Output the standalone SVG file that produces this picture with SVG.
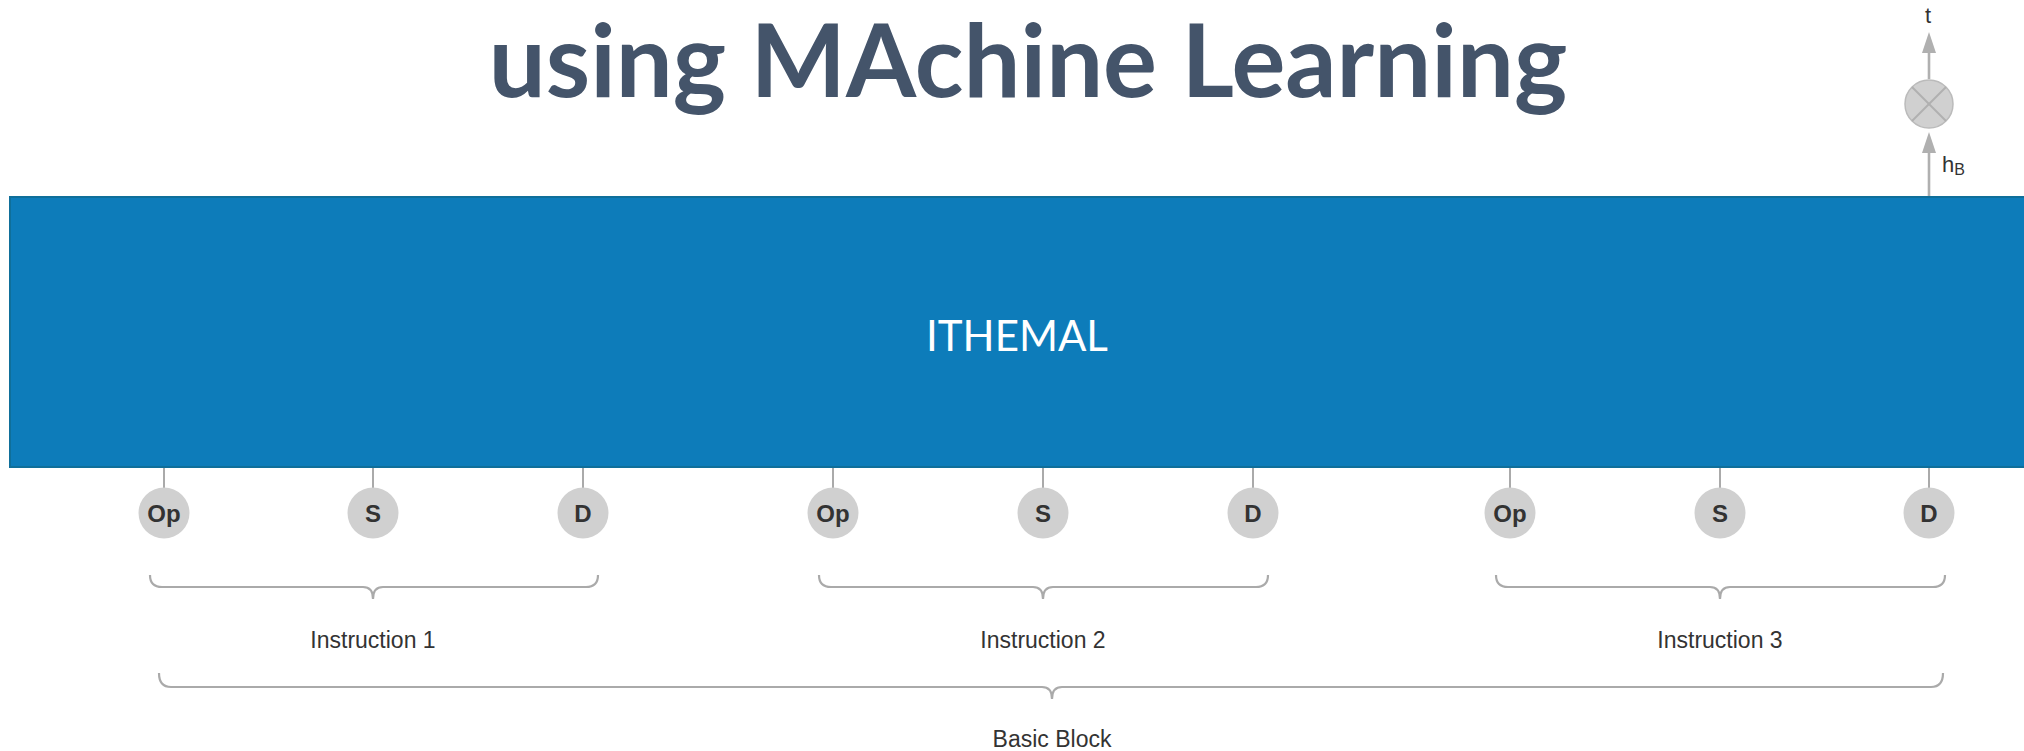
<svg xmlns="http://www.w3.org/2000/svg" width="2024" height="751" viewBox="0 0 2024 751">
<style>
.title{font-family:Lato,"Liberation Sans",sans-serif;font-weight:bold;font-size:101px;fill:#44546a}
.main{font-family:Lato,"Liberation Sans",sans-serif;font-size:42px;fill:#ffffff}
.tok{fill:#d0d0d0}
.tokt{font-family:"Liberation Sans",Arial,sans-serif;font-weight:bold;font-size:24px;fill:#333333}
.lbl{font-family:"Liberation Sans",Arial,sans-serif;font-size:23px;fill:#333333}
.small{font-family:"Liberation Sans",Arial,sans-serif;font-size:22px;fill:#333333}
.conn{stroke:#aaaaaa;stroke-width:2;fill:none}
.brace{stroke:#aaaaaa;stroke-width:2.2;fill:none}
.arr{stroke:#b0b0b0;stroke-width:2.6;fill:none}
</style>
<rect width="2024" height="751" fill="#ffffff"/>
<text class="title" x="1028" y="97" text-anchor="middle">using MAchine Learning</text>

<g id="ithemal">
<rect x="10" y="197" width="2016" height="270" fill="#0d7cba" stroke="#0f6f9a" stroke-width="2"/>
<text class="main" x="1017" y="351" text-anchor="middle">ITHEMAL</text>
</g>

<g id="connectors">
<line class="conn" x1="164" y1="468" x2="164" y2="488"/>
<line class="conn" x1="373" y1="468" x2="373" y2="488"/>
<line class="conn" x1="583" y1="468" x2="583" y2="488"/>
<line class="conn" x1="833" y1="468" x2="833" y2="488"/>
<line class="conn" x1="1043" y1="468" x2="1043" y2="488"/>
<line class="conn" x1="1253" y1="468" x2="1253" y2="488"/>
<line class="conn" x1="1510" y1="468" x2="1510" y2="488"/>
<line class="conn" x1="1720" y1="468" x2="1720" y2="488"/>
<line class="conn" x1="1929" y1="468" x2="1929" y2="488"/>
<path class="arr" d="M1929,196 L1929,150"/>
<path d="M1922,153 L1929,132 L1936,153 Z" fill="#b0b0b0"/>
<path class="arr" d="M1929,79 L1929,52"/>
<path d="M1922,53 L1929,32 L1936,53 Z" fill="#b0b0b0"/>
</g>

<g id="mult">
<circle cx="1929" cy="104" r="24" fill="#d0d0d0" stroke="#bbbbbb" stroke-width="1.5"/>
<line x1="1912" y1="87" x2="1946" y2="121" stroke="#b0b0b0" stroke-width="2"/>
<line x1="1946" y1="87" x2="1912" y2="121" stroke="#b0b0b0" stroke-width="2"/>
</g>
<text id="t-label" class="small" x="1928" y="23" text-anchor="middle">t</text>
<text id="hb-label" class="small" x="1942" y="172" font-size="23">h<tspan font-size="16" dy="3">B</tspan></text>

<g id="op1"><circle class="tok" cx="164" cy="513" r="25.5"/><text class="tokt" x="164" y="521.5" text-anchor="middle">Op</text></g>
<g id="s1"><circle class="tok" cx="373" cy="513" r="25.5"/><text class="tokt" x="373" y="521.5" text-anchor="middle">S</text></g>
<g id="d1"><circle class="tok" cx="583" cy="513" r="25.5"/><text class="tokt" x="583" y="521.5" text-anchor="middle">D</text></g>
<g id="op2"><circle class="tok" cx="833" cy="513" r="25.5"/><text class="tokt" x="833" y="521.5" text-anchor="middle">Op</text></g>
<g id="s2"><circle class="tok" cx="1043" cy="513" r="25.5"/><text class="tokt" x="1043" y="521.5" text-anchor="middle">S</text></g>
<g id="d2"><circle class="tok" cx="1253" cy="513" r="25.5"/><text class="tokt" x="1253" y="521.5" text-anchor="middle">D</text></g>
<g id="op3"><circle class="tok" cx="1510" cy="513" r="25.5"/><text class="tokt" x="1510" y="521.5" text-anchor="middle">Op</text></g>
<g id="s3"><circle class="tok" cx="1720" cy="513" r="25.5"/><text class="tokt" x="1720" y="521.5" text-anchor="middle">S</text></g>
<g id="d3"><circle class="tok" cx="1929" cy="513" r="25.5"/><text class="tokt" x="1929" y="521.5" text-anchor="middle">D</text></g>

<g id="instr1">
<path class="brace" d="M150,575 Q150,587 162,587 L363,587 Q373,587 373,599 Q373,587 383,587 L586,587 Q598,587 598,575"/>
<text class="lbl" x="373" y="648" text-anchor="middle">Instruction 1</text>
</g>
<g id="instr2">
<path class="brace" d="M819,575 Q819,587 831,587 L1033,587 Q1043,587 1043,599 Q1043,587 1053,587 L1256,587 Q1268,587 1268,575"/>
<text class="lbl" x="1043" y="648" text-anchor="middle">Instruction 2</text>
</g>
<g id="instr3">
<path class="brace" d="M1496,575 Q1496,587 1508,587 L1710,587 Q1720,587 1720,599 Q1720,587 1730,587 L1933,587 Q1945,587 1945,575"/>
<text class="lbl" x="1720" y="648" text-anchor="middle">Instruction 3</text>
</g>
<g id="basicblock">
<path class="brace" d="M159,673 Q159,687 171,687 L1042,687 Q1052,687 1052,699 Q1052,687 1062,687 L1931,687 Q1943,687 1943,673"/>
<text class="lbl" x="1052" y="747" text-anchor="middle">Basic Block</text>
</g>
</svg>
